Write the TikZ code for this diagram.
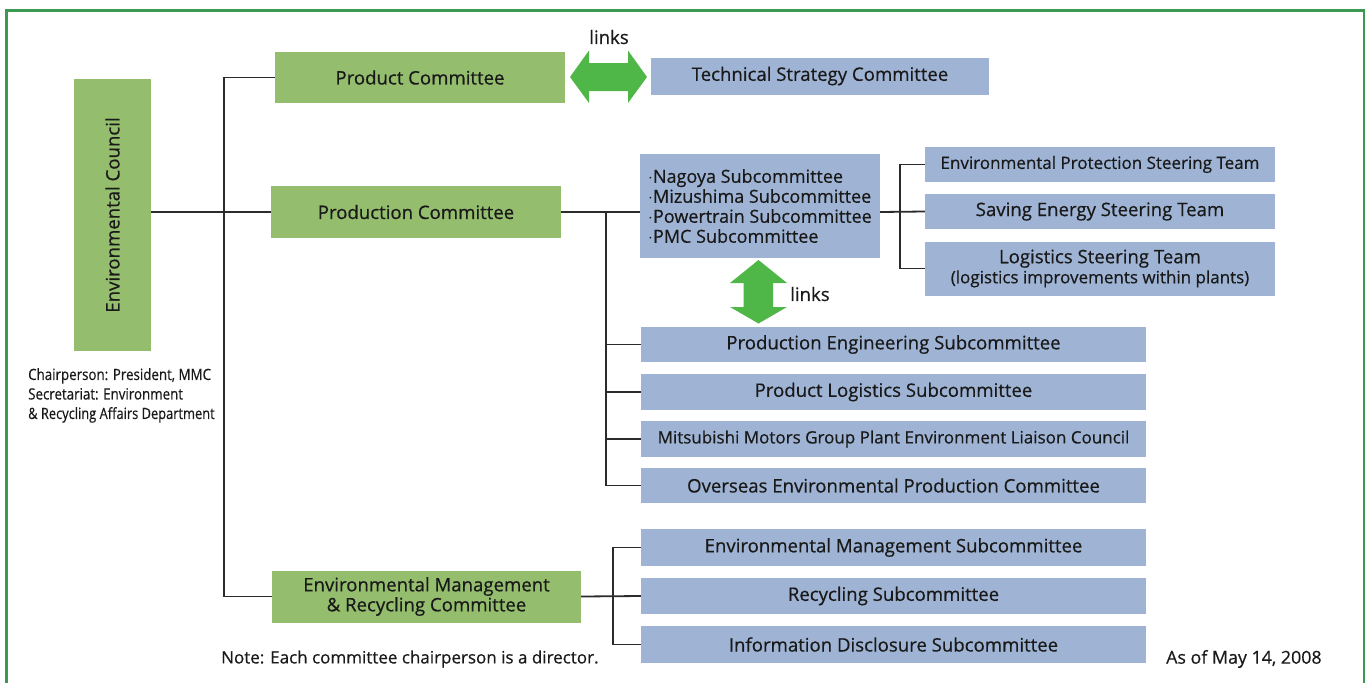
\documentclass[tikz,border=0pt]{standalone}
\usepackage{fontspec}
\setmainfont{Open Sans}[FakeBold=0.5]
\usetikzlibrary{calc}
\definecolor{boxgreen}{HTML}{94BD6D}
\definecolor{boxblue}{HTML}{9FB4D4}
\definecolor{arrgreen}{HTML}{4FB748}
\definecolor{framegreen}{HTML}{3C9A50}
\definecolor{linegray}{HTML}{2B2B2B}
\tikzset{
  every node/.style={font=\fontsize{18.6}{20}\selectfont, text=black!90, inner sep=0pt},
  gbox/.style={fill=boxgreen, align=center},
  bbox/.style={fill=boxblue, align=center},
  conn/.style={draw=linegray, line width=1.8pt},
}
\begin{document}
\begin{tikzpicture}[x=1pt,y=-1pt]
\useasboundingbox (0,0) rectangle (1370,683);
\draw[framegreen, line width=2.6pt] (6.5,683) -- (6.5,10.5) -- (1364,10.5) -- (1364,683);

% green nodes
\node[gbox, minimum width=272pt, minimum height=77pt, rotate=90] (council) at (112.5,215) {Environmental Council};
\node[gbox, minimum width=290pt, minimum height=51pt] (pc) at (420,77.5) {Product Committee};
\node[gbox, minimum width=290pt, minimum height=52pt] (prodc) at (416,212) {Production Committee};
\node[gbox, minimum width=309pt, minimum height=52pt] (emr) at (426.5,596.5) {Environmental Management\\\& Recycling Committee};

% blue nodes
\node[bbox, minimum width=338pt, minimum height=37pt] (tsc) at (820,76) {Technical Strategy Committee};
\node[bbox, minimum width=240pt, minimum height=104pt, align=left, font=\fontsize{18}{20}\selectfont] (nag) at (760,206) {$\cdot$Nagoya Subcommittee\\$\cdot$Mizushima Subcommittee\\$\cdot$Powertrain Subcommittee\\$\cdot$PMC Subcommittee};
\node[bbox, minimum width=350pt, minimum height=35pt, font=\fontsize{17}{20}\selectfont] (ep) at (1100,164.5) {Environmental Protection Steering Team};
\node[bbox, minimum width=350pt, minimum height=35pt] (sav) at (1100,211.5) {Saving Energy Steering Team};
\node[bbox, minimum width=350pt, minimum height=54pt] (lg) at (1100,268.5) {Logistics Steering Team\\{\fontsize{17}{20}\selectfont(logistics improvements within plants)}};
\node[bbox, minimum width=505pt, minimum height=35pt] (pe) at (893.5,344.5) {Production Engineering Subcommittee};
\node[bbox, minimum width=505pt, minimum height=36pt] (pl) at (893.5,392) {Product Logistics Subcommittee};
\node[bbox, minimum width=505pt, minimum height=36pt, font=\fontsize{17}{20}\selectfont] (mm) at (893.5,439) {Mitsubishi Motors Group Plant Environment Liaison Council};
\node[bbox, minimum width=505pt, minimum height=35pt] (ov) at (893.5,485.5) {Overseas Environmental Production Committee};
\node[bbox, minimum width=505pt, minimum height=37pt] (ems) at (893.5,547.5) {Environmental Management Subcommittee};
\node[bbox, minimum width=505pt, minimum height=36pt] (rec) at (893.5,596) {Recycling Subcommittee};
\node[bbox, minimum width=505pt, minimum height=37pt] (inf) at (893.5,644.5) {Information Disclosure Subcommittee};

% connectors
\coordinate (b1) at (224,212);
\draw[conn] (council.south |- prodc) -- (prodc.west);
\draw[conn] (pc.west) -| (b1) |- (emr.west);
\coordinate (b2) at (606,212);
\draw[conn] (prodc.east) -- (nag.west |- prodc);
\draw[conn] (b2) |- (ov.west);
\draw[conn] (pe.west) -| (b2);
\draw[conn] (pl.west) -- (pl.west -| b2);
\draw[conn] (mm.west) -- (mm.west -| b2);
\coordinate (b3) at (900,212);
\draw[conn] (nag.east |- prodc) -- (sav.west);
\draw[conn] (ep.west) -| (b3) |- (lg.west);
\coordinate (b4) at (613,595);
\draw[conn] (emr.east) -- (rec.west);
\draw[conn] (ems.west) -| (b4) |- (inf.west);

% link arrows
\fill[arrgreen] (570,77) -- (589,50.5) -- (589,63) -- (628,63) -- (628,50.5) -- (647,77) -- (628,103) -- (628,91) -- (589,91) -- (589,103) -- cycle;
\fill[arrgreen] (758.5,260) -- (787,283) -- (773,283) -- (773,307) -- (787,307) -- (758.5,323.5) -- (730,307) -- (743.5,307) -- (743.5,283) -- (730,283) -- cycle;
\node (l1) at (609,37) {links};
\node[anchor=west] (l2) at (790,294) {links};

% notes
\node[anchor=north west, align=left, font=\fontsize{15.5}{19.5}\selectfont] (chair) at (28,368) {\scalebox{0.86}[1]{Chairperson: President, MMC}\\\scalebox{0.86}[1]{Secretariat: Environment}\\\scalebox{0.83}[1]{\& Recycling Affairs Department}};
\node[anchor=west, font=\fontsize{17}{18}\selectfont] (note) at (221,659) {Note: Each committee chairperson is a director.};
\node[anchor=west, font=\fontsize{17.8}{18}\selectfont] (asof) at (1166,659) {As of May 14, 2008};
\end{tikzpicture}
\end{document}
